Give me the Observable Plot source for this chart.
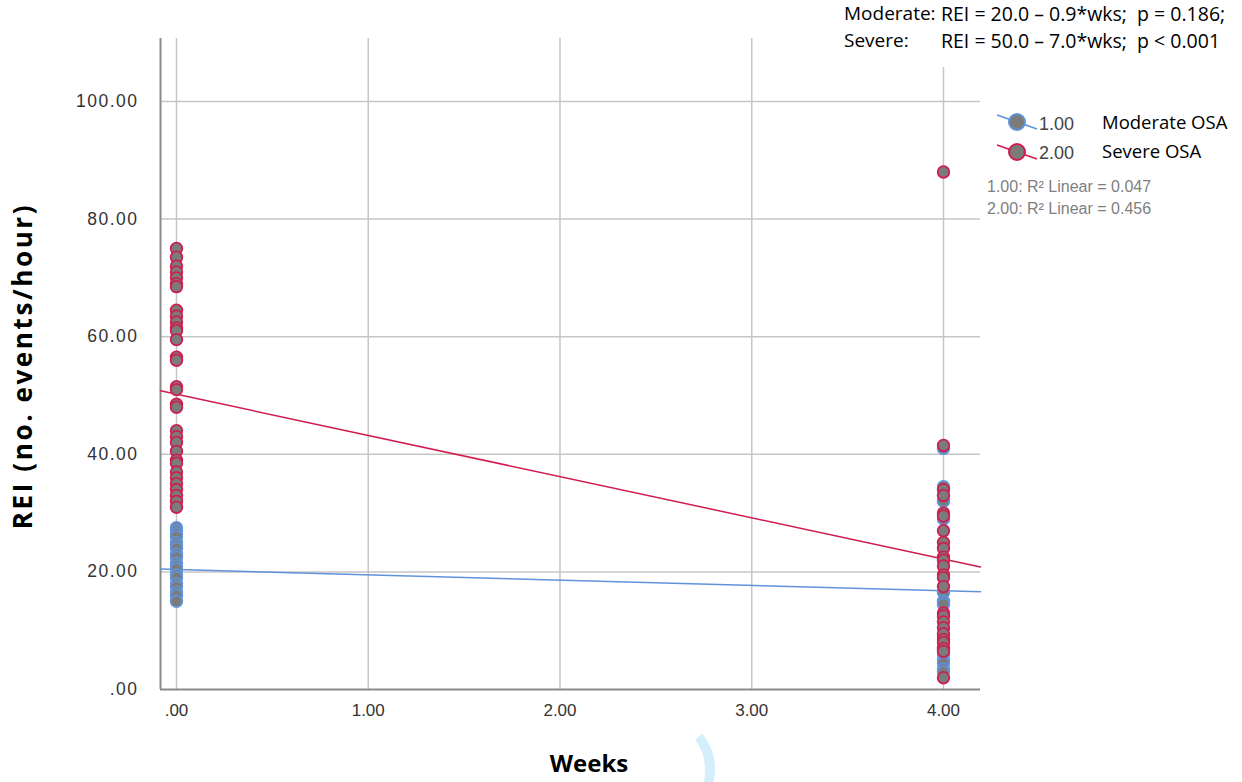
<!DOCTYPE html>
<html><head><meta charset="utf-8">
<script src="https://cdn.jsdelivr.net/npm/d3@7"></script>
<script src="https://cdn.jsdelivr.net/npm/@observablehq/plot@0.6"></script>
<style>
body{margin:0;background:#fff;}
#wrap{position:relative;width:1242px;height:782px;overflow:hidden;background:#fff;}
#wrap svg{position:absolute;left:0;top:0;}
.abs{position:absolute;white-space:pre;line-height:1;}
.cal{font-family:"Open Sans",sans-serif;color:#000;}
.ari{font-family:"Liberation Sans",Arial,sans-serif;}
g[aria-label="y-axis tick label"] text{letter-spacing:1.5px;}
</style></head><body><div id="wrap"></div>
<script>
// ---- data ----
const groups = ["Moderate OSA", "Severe OSA"];
const groupCodes = ["1.00", "2.00"];
const groupColors = ["#5f93dc", "#cf1d4f"];
const moderateWeek0 = [27.5, 27, 26.5, 26, 25, 24.5, 24, 23, 22.5, 21.5, 21, 20.5, 19.5, 19, 18, 17.5, 16.5, 16, 15];
const severeWeek0 = [75, 73.5, 72, 71, 70, 69, 68.5, 64.5, 63.5, 62.5, 61.5, 61, 59.5, 56.5, 56, 51.5, 51, 48.5, 48, 44, 43, 42, 40.5, 39, 38.5, 37, 36, 35, 34, 33, 32, 31];
const moderateWeek4 = [41, 34.5, 32, 29, 16.5, 15, 14.5, 9, 6, 5, 4.5, 3.5, 3];
const severeWeek4 = [88, 41.5, 34, 33, 30, 29.5, 27, 25, 24, 22.5, 22, 21, 19.5, 19, 17.5, 13, 12.5, 11.5, 10.5, 9.5, 8.5, 8, 7, 6.5, 2];
const intercepts = [20.4, 50.2];
const slopes = [-0.9, -7.0];
const r2Values = ["0.047", "0.456"];
const xTicks = [0, 1, 2, 3, 4];
const yTicks = [0, 20, 40, 60, 80, 100];
const xDomain = [-0.0834, 4.193];
const yDomain = [0, 110.7];
const annotationLines = [
  ["Moderate:", "REI = 20.0 \u2013 0.9*wks;  p = 0.186;"],
  ["Severe:", "REI = 50.0 \u2013 7.0*wks;  p < 0.001"]
];

// ---- build tables ----
const points = [];
moderateWeek0.forEach(v => points.push({x: 0, y: v, group: groups[0]}));
moderateWeek4.forEach(v => points.push({x: 4, y: v, group: groups[0]}));
severeWeek0.forEach(v => points.push({x: 0, y: v, group: groups[1]}));
severeWeek4.forEach(v => points.push({x: 4, y: v, group: groups[1]}));
const fitLines = [];
groups.forEach((g, i) => xDomain.forEach(x => fitLines.push({x, y: intercepts[i] + slopes[i] * x, group: g})));

const fmt = d => d === 0 ? ".00" : d.toFixed(2);

const plot = Plot.plot({
  width: 1242, height: 782,
  marginLeft: 160, marginRight: 262, marginTop: 38, marginBottom: 93,
  style: {fontFamily: "'Liberation Sans', Arial, sans-serif", fontSize: "17px", color: "#333", background: "transparent"},
  x: {domain: xDomain, label: null},
  y: {domain: yDomain, label: null},
  color: {domain: groups, range: groupColors},
  marks: [
    Plot.ruleY(yTicks.filter(d => d > 0), {stroke: "#c6c6c6", strokeWidth: 1.5}),
    Plot.ruleX(xTicks, {stroke: "#c6c6c6", strokeWidth: 1.5}),
    Plot.ruleY([0], {stroke: "#8a8a8a", strokeWidth: 2}),
    Plot.ruleX([xDomain[0]], {stroke: "#8a8a8a", strokeWidth: 2}),
    Plot.line(fitLines, {x: "x", y: "y", z: "group", stroke: "group", strokeWidth: 1.5}),
    Plot.dot(points, {x: "x", y: "y", r: 5.8, fill: "#7b7b7b", stroke: "group", strokeWidth: 1.8}),
    Plot.axisX(xTicks, {tickFormat: fmt, tickSize: 0, tickPadding: 14, label: null, fill: "#333"}),
    Plot.axisY(yTicks, {tickFormat: fmt, tickSize: 0, tickPadding: 22, label: null, fill: "#333", fontSize: 17.5})
  ]
});
const wrap = document.getElementById("wrap");
wrap.appendChild(plot);

function addDiv(cls, text, style) {
  const d = document.createElement("div");
  d.className = "abs " + cls;
  d.textContent = text;
  Object.assign(d.style, style);
  wrap.appendChild(d);
  return d;
}
// annotation box (white, hides the top of the 4.00 gridline)
const box = document.createElement("div");
Object.assign(box.style, {position: "absolute", left: "838px", top: "0px", width: "404px", height: "67px", background: "#fff"});
wrap.appendChild(box);
annotationLines.forEach((ln, i) => {
  addDiv("cal", ln[0], {left: "844px", top: (4 + i * 27) + "px", fontSize: "19px"});
  addDiv("cal", ln[1], {left: "941px", top: (4 + i * 27) + "px", fontSize: "19.5px"});
});

// legend
const ns = "http://www.w3.org/2000/svg";
const lg = document.createElementNS(ns, "svg");
lg.setAttribute("width", 60); lg.setAttribute("height", 70);
Object.assign(lg.style, {position: "absolute", left: "990px", top: "105px"});
groups.forEach((g, i) => {
  const cy = 17 + i * 30;
  const l = document.createElementNS(ns, "line");
  l.setAttribute("x1", 7); l.setAttribute("y1", cy - 7); l.setAttribute("x2", 47); l.setAttribute("y2", cy + 7);
  l.setAttribute("stroke", groupColors[i]); l.setAttribute("stroke-width", 1.5);
  lg.appendChild(l);
  const c = document.createElementNS(ns, "circle");
  c.setAttribute("cx", 27); c.setAttribute("cy", cy); c.setAttribute("r", 8);
  c.setAttribute("fill", "#7b7b7b"); c.setAttribute("stroke", groupColors[i]); c.setAttribute("stroke-width", 2);
  lg.appendChild(c);
  addDiv("ari", groupCodes[i], {left: "1039px", top: (115 + i * 29) + "px", fontSize: "18px", color: "#444"});
  addDiv("cal", g, {left: "1102px", top: (113 + i * 29) + "px", fontSize: "18.5px"});
  addDiv("ari", groupCodes[i] + ": R\u00b2 Linear = " + r2Values[i], {left: "987px", top: (179 + i * 22) + "px", fontSize: "16px", color: "#808080"});
});
wrap.appendChild(lg);

// axis titles
addDiv("cal", "Weeks", {left: "589px", top: "751px", fontSize: "24px", fontWeight: "bold", transform: "translateX(-50%)"});
addDiv("cal", "REI (no. events/hour)", {left: "22px", top: "366px", fontSize: "26px", fontWeight: "bold", letterSpacing: "2.6px", transform: "translate(-50%,-50%) rotate(-90deg)"});

// faint watermark arc
const arc = document.createElement("div");
Object.assign(arc.style, {position: "absolute", left: "640px", top: "722px", width: "75px", height: "95px", borderRadius: "50%", borderRight: "10px solid #d3effc", borderTop: "9px solid transparent", boxSizing: "border-box"});
wrap.appendChild(arc);
</script></body></html>
